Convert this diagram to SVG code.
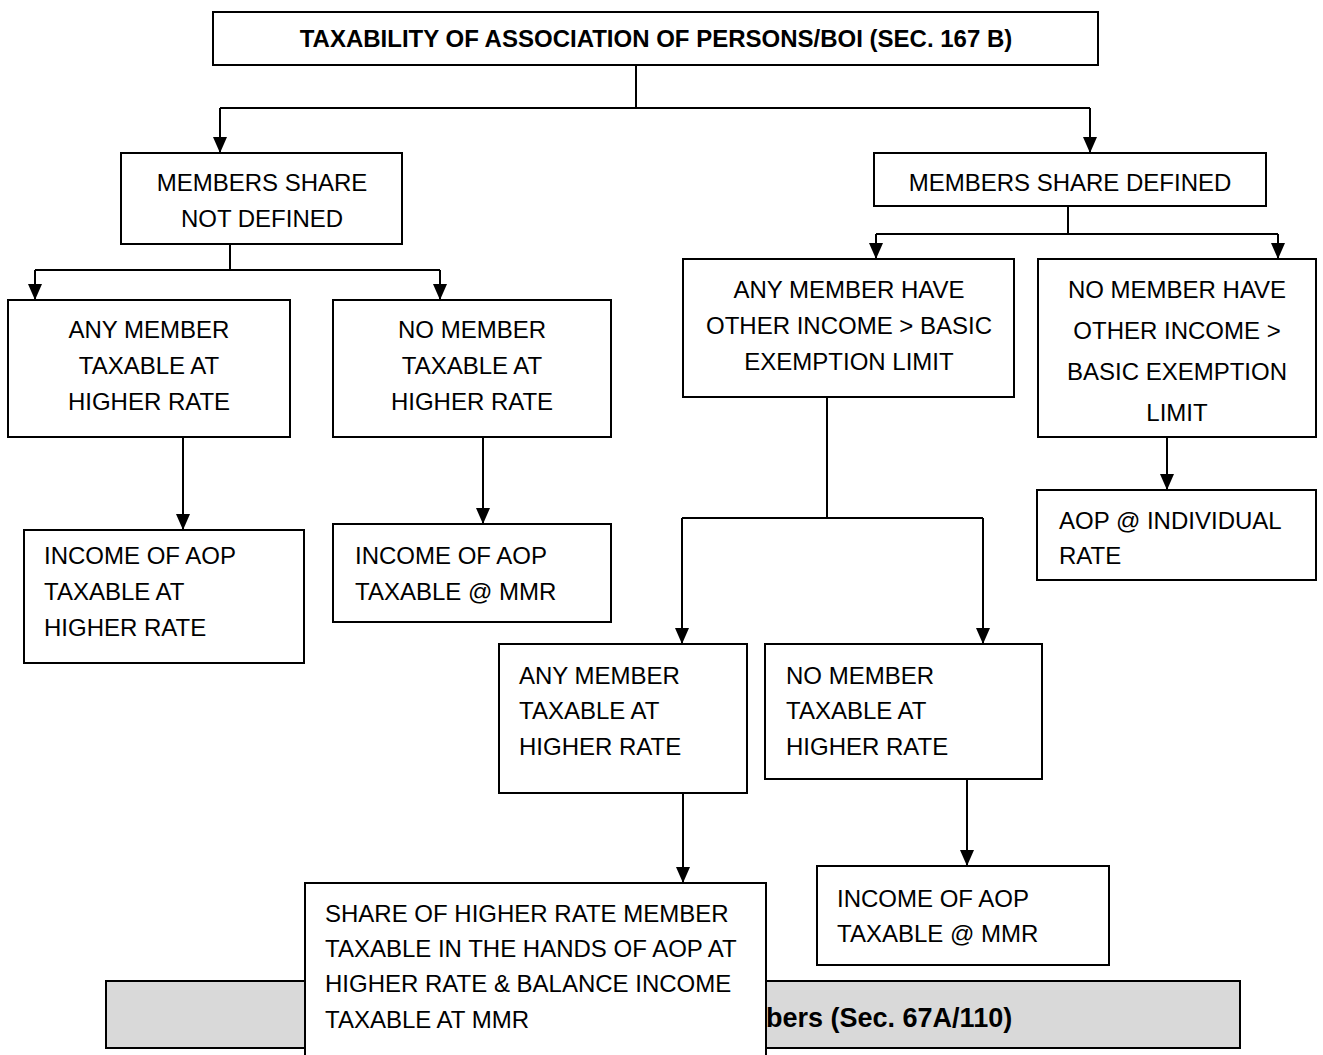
<svg xmlns="http://www.w3.org/2000/svg" width="1323" height="1055" viewBox="0 0 1323 1055">
<defs>
<marker id="arr" viewBox="0 0 16 14" refX="16" refY="7" markerWidth="16" markerHeight="14" markerUnits="userSpaceOnUse" orient="auto">
<path d="M0,0 L16,7 L0,14 z" fill="#000"/>
</marker>
<style>
rect.n{fill:#fff;stroke:#000;stroke-width:2}
rect.g{fill:#d9d9d9;stroke:#000;stroke-width:2}
text{font-family:"Liberation Sans",Arial,sans-serif;font-size:24px;fill:#000}
text.c{text-anchor:middle}
text.b{font-weight:bold}
.ln{fill:none;stroke:#000;stroke-width:2}
.ar{fill:none;stroke:#000;stroke-width:2;marker-end:url(#arr)}
</style>
</defs>
<rect width="1323" height="1055" fill="#fff"/>
<g id="connectors">
<path class="ln" d="M636,65 V108 M220,108 H1090"/>
<path class="ar" d="M220,108 V153"/>
<path class="ar" d="M1090,108 V153"/>
<path class="ln" d="M230,244 V270 M35,270 H440"/>
<path class="ar" d="M35,270 V300"/>
<path class="ar" d="M440,270 V300"/>
<path class="ar" d="M183,437 V530"/>
<path class="ar" d="M483,437 V524"/>
<path class="ln" d="M1068,206 V234 M876,234 H1278"/>
<path class="ar" d="M876,234 V259"/>
<path class="ar" d="M1278,234 V259"/>
<path class="ar" d="M1167,437 V490"/>
<path class="ln" d="M827,397 V518 M682,518 H983"/>
<path class="ar" d="M682,518 V644"/>
<path class="ar" d="M983,518 V644"/>
<path class="ar" d="M683,793 V883"/>
<path class="ar" d="M967,779 V866"/>
</g>
<g id="n-title">
<rect class="n" x="213" y="12" width="885" height="53"/>
<text class="c b" x="656" y="47">TAXABILITY OF ASSOCIATION OF PERSONS/BOI (SEC. 167 B)</text>
</g>
<g id="n-notdefined">
<rect class="n" x="121" y="153" width="281" height="91"/>
<text class="c" x="262" y="191">MEMBERS SHARE</text>
<text class="c" x="262" y="227">NOT DEFINED</text>
</g>
<g id="n-defined">
<rect class="n" x="874" y="153" width="392" height="53"/>
<text class="c" x="1070" y="191">MEMBERS SHARE DEFINED</text>
</g>
<g id="n-any1">
<rect class="n" x="8" y="300" width="282" height="137"/>
<text class="c" x="149" y="338">ANY MEMBER</text>
<text class="c" x="149" y="374">TAXABLE AT</text>
<text class="c" x="149" y="410">HIGHER RATE</text>
</g>
<g id="n-no1">
<rect class="n" x="333" y="300" width="278" height="137"/>
<text class="c" x="472" y="338">NO MEMBER</text>
<text class="c" x="472" y="374">TAXABLE AT</text>
<text class="c" x="472" y="410">HIGHER RATE</text>
</g>
<g id="n-inc1">
<rect class="n" x="24" y="530" width="280" height="133"/>
<text x="44" y="564">INCOME OF AOP</text>
<text x="44" y="600">TAXABLE AT</text>
<text x="44" y="636">HIGHER RATE</text>
</g>
<g id="n-mmr1">
<rect class="n" x="333" y="524" width="278" height="98"/>
<text x="355" y="564">INCOME OF AOP</text>
<text x="355" y="600">TAXABLE @ MMR</text>
</g>
<g id="n-anyhave">
<rect class="n" x="683" y="259" width="331" height="138"/>
<text class="c" x="849" y="298">ANY MEMBER HAVE</text>
<text class="c" x="849" y="334">OTHER INCOME &gt; BASIC</text>
<text class="c" x="849" y="370">EXEMPTION LIMIT</text>
</g>
<g id="n-nohave">
<rect class="n" x="1038" y="259" width="278" height="178"/>
<text class="c" x="1177" y="298">NO MEMBER HAVE</text>
<text class="c" x="1177" y="339">OTHER INCOME &gt;</text>
<text class="c" x="1177" y="380">BASIC EXEMPTION</text>
<text class="c" x="1177" y="421">LIMIT</text>
</g>
<g id="n-indiv">
<rect class="n" x="1037" y="490" width="279" height="90"/>
<text x="1059" y="529">AOP @ INDIVIDUAL</text>
<text x="1059" y="564">RATE</text>
</g>
<g id="n-any2">
<rect class="n" x="499" y="644" width="248" height="149"/>
<text x="519" y="684">ANY MEMBER</text>
<text x="519" y="719">TAXABLE AT</text>
<text x="519" y="755">HIGHER RATE</text>
</g>
<g id="n-no2">
<rect class="n" x="765" y="644" width="277" height="135"/>
<text x="786" y="684">NO MEMBER</text>
<text x="786" y="719">TAXABLE AT</text>
<text x="786" y="755">HIGHER RATE</text>
</g>
<g id="n-mmr2">
<rect class="n" x="817" y="866" width="292" height="99"/>
<text x="837" y="907">INCOME OF AOP</text>
<text x="837" y="942">TAXABLE @ MMR</text>
</g>
<g id="n-clubbing">
<rect class="g" x="106" y="981" width="1134" height="67"/>
<text class="b" x="766" y="1027" style="font-size:27px">bers (Sec. 67A/110)</text>
</g>
<g id="n-share">
<rect class="n" x="305" y="883" width="461" height="180"/>
<text x="325" y="922">SHARE OF HIGHER RATE MEMBER</text>
<text x="325" y="957">TAXABLE IN THE HANDS OF AOP AT</text>
<text x="325" y="992">HIGHER RATE &amp; BALANCE INCOME</text>
<text x="325" y="1028">TAXABLE AT MMR</text>
</g>
</svg>
